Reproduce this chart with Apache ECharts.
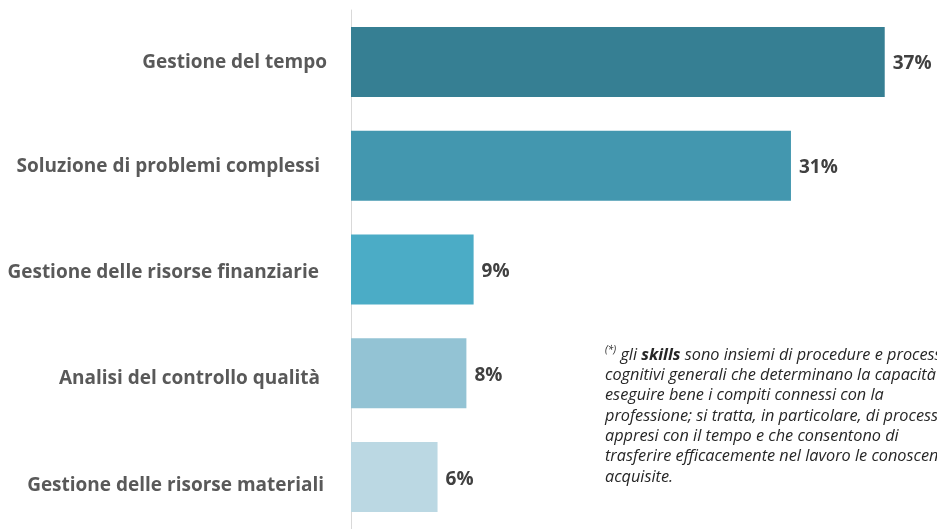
<!DOCTYPE html>
<html>
<head>
<meta charset="utf-8">
<style>
  html, body { margin: 0; padding: 0; background: #fff; }
  #chart { width: 937px; height: 529px; }
</style>
<script src="https://cdn.jsdelivr.net/npm/echarts@6/dist/echarts.min.js"></script>
</head>
<body>
<div id="chart"></div>
<script>
// categories, top to bottom
const categories = [
  'Gestione del tempo',
  'Soluzione di problemi complessi',
  'Gestione delle risorse finanziarie',
  'Analisi del controllo qualità',
  'Gestione delle risorse materiali'
]
// share in percent (labels are rounded)
const values = [37, 30.5, 8.5, 8, 6]
const barColors = ['#367F93', '#4397AF', '#4BACC6', '#93C3D4', '#BBD8E3']

const noteLines = [
  '{sup|(*)} gli {b|skills} sono insiemi di procedure e processi',
  'cognitivi generali che determinano la capacità di',
  'eseguire bene i compiti connessi con la',
  'professione; si tratta, in particolare, di processi',
  'appresi con il tempo e che consentono di',
  'trasferire efficacemente nel lavoro le conoscenze',
  'acquisite.'
]

// the original category labels sit a bit lower / less aligned than the bars
const labelNudge = [[2, 0], [2, 7], [6, 8], [10, 7], [16, 3]]
const catRich = {}
labelNudge.forEach((n, i) => {
  catRich['c' + i] = {
    color: '#595959',
    fontFamily: 'Open Sans',
    fontWeight: 'bold',
    fontSize: 19,
    padding: [n[0], n[1], 0, 0]
  }
})

const chart = echarts.init(document.getElementById('chart'))

chart.setOption({
  backgroundColor: '#ffffff',
  animation: false,
  grid: {
    left: 351,
    top: 10,
    width: 577,
    height: 522,
    containLabel: false
  },
  xAxis: {
    type: 'value',
    min: 0,
    max: 40,
    show: false,
    splitLine: { show: false }
  },
  yAxis: {
    type: 'category',
    inverse: true,
    data: categories,
    axisLine: {
      show: true,
      lineStyle: { color: '#d9d9d9', width: 1 }
    },
    axisTick: { show: false },
    axisLabel: {
      margin: 24,
      color: '#595959',
      fontFamily: 'Open Sans',
      fontWeight: 'bold',
      fontSize: 19,
      formatter(value, index) {
        return '{c' + index + '|' + value + '}'
      },
      rich: catRich
    }
  },
  series: [{
    type: 'bar',
    barWidth: 70,
    data: values.map((v, i) => ({
      value: v,
      itemStyle: { color: barColors[i] }
    })),
    label: {
      show: true,
      position: 'right',
      distance: 8,
      offset: [0, 2],
      color: '#404040',
      fontFamily: 'Open Sans',
      fontWeight: 'bold',
      fontSize: 19,
      formatter(p) {
        return Math.round(p.value) + '%'
      }
    }
  }],
  graphic: [{
    type: 'text',
    left: 605,
    top: 345,
    style: {
      text: noteLines.join('\n'),
      fill: '#262626',
      fontFamily: 'Open Sans',
      fontStyle: 'italic',
      fontSize: 16.3,
      lineHeight: 20.3,
      rich: {
        sup: {
          fontSize: 10,
          fontStyle: 'italic',
          fontFamily: 'Open Sans',
          fill: '#262626',
          verticalAlign: 'top',
          lineHeight: 20.3
        },
        b: {
          fontWeight: 'bold',
          fontStyle: 'italic',
          fontFamily: 'Open Sans',
          fontSize: 16.3,
          fill: '#262626',
          lineHeight: 20.3
        }
      }
    }
  }]
})
</script>
</body>
</html>
